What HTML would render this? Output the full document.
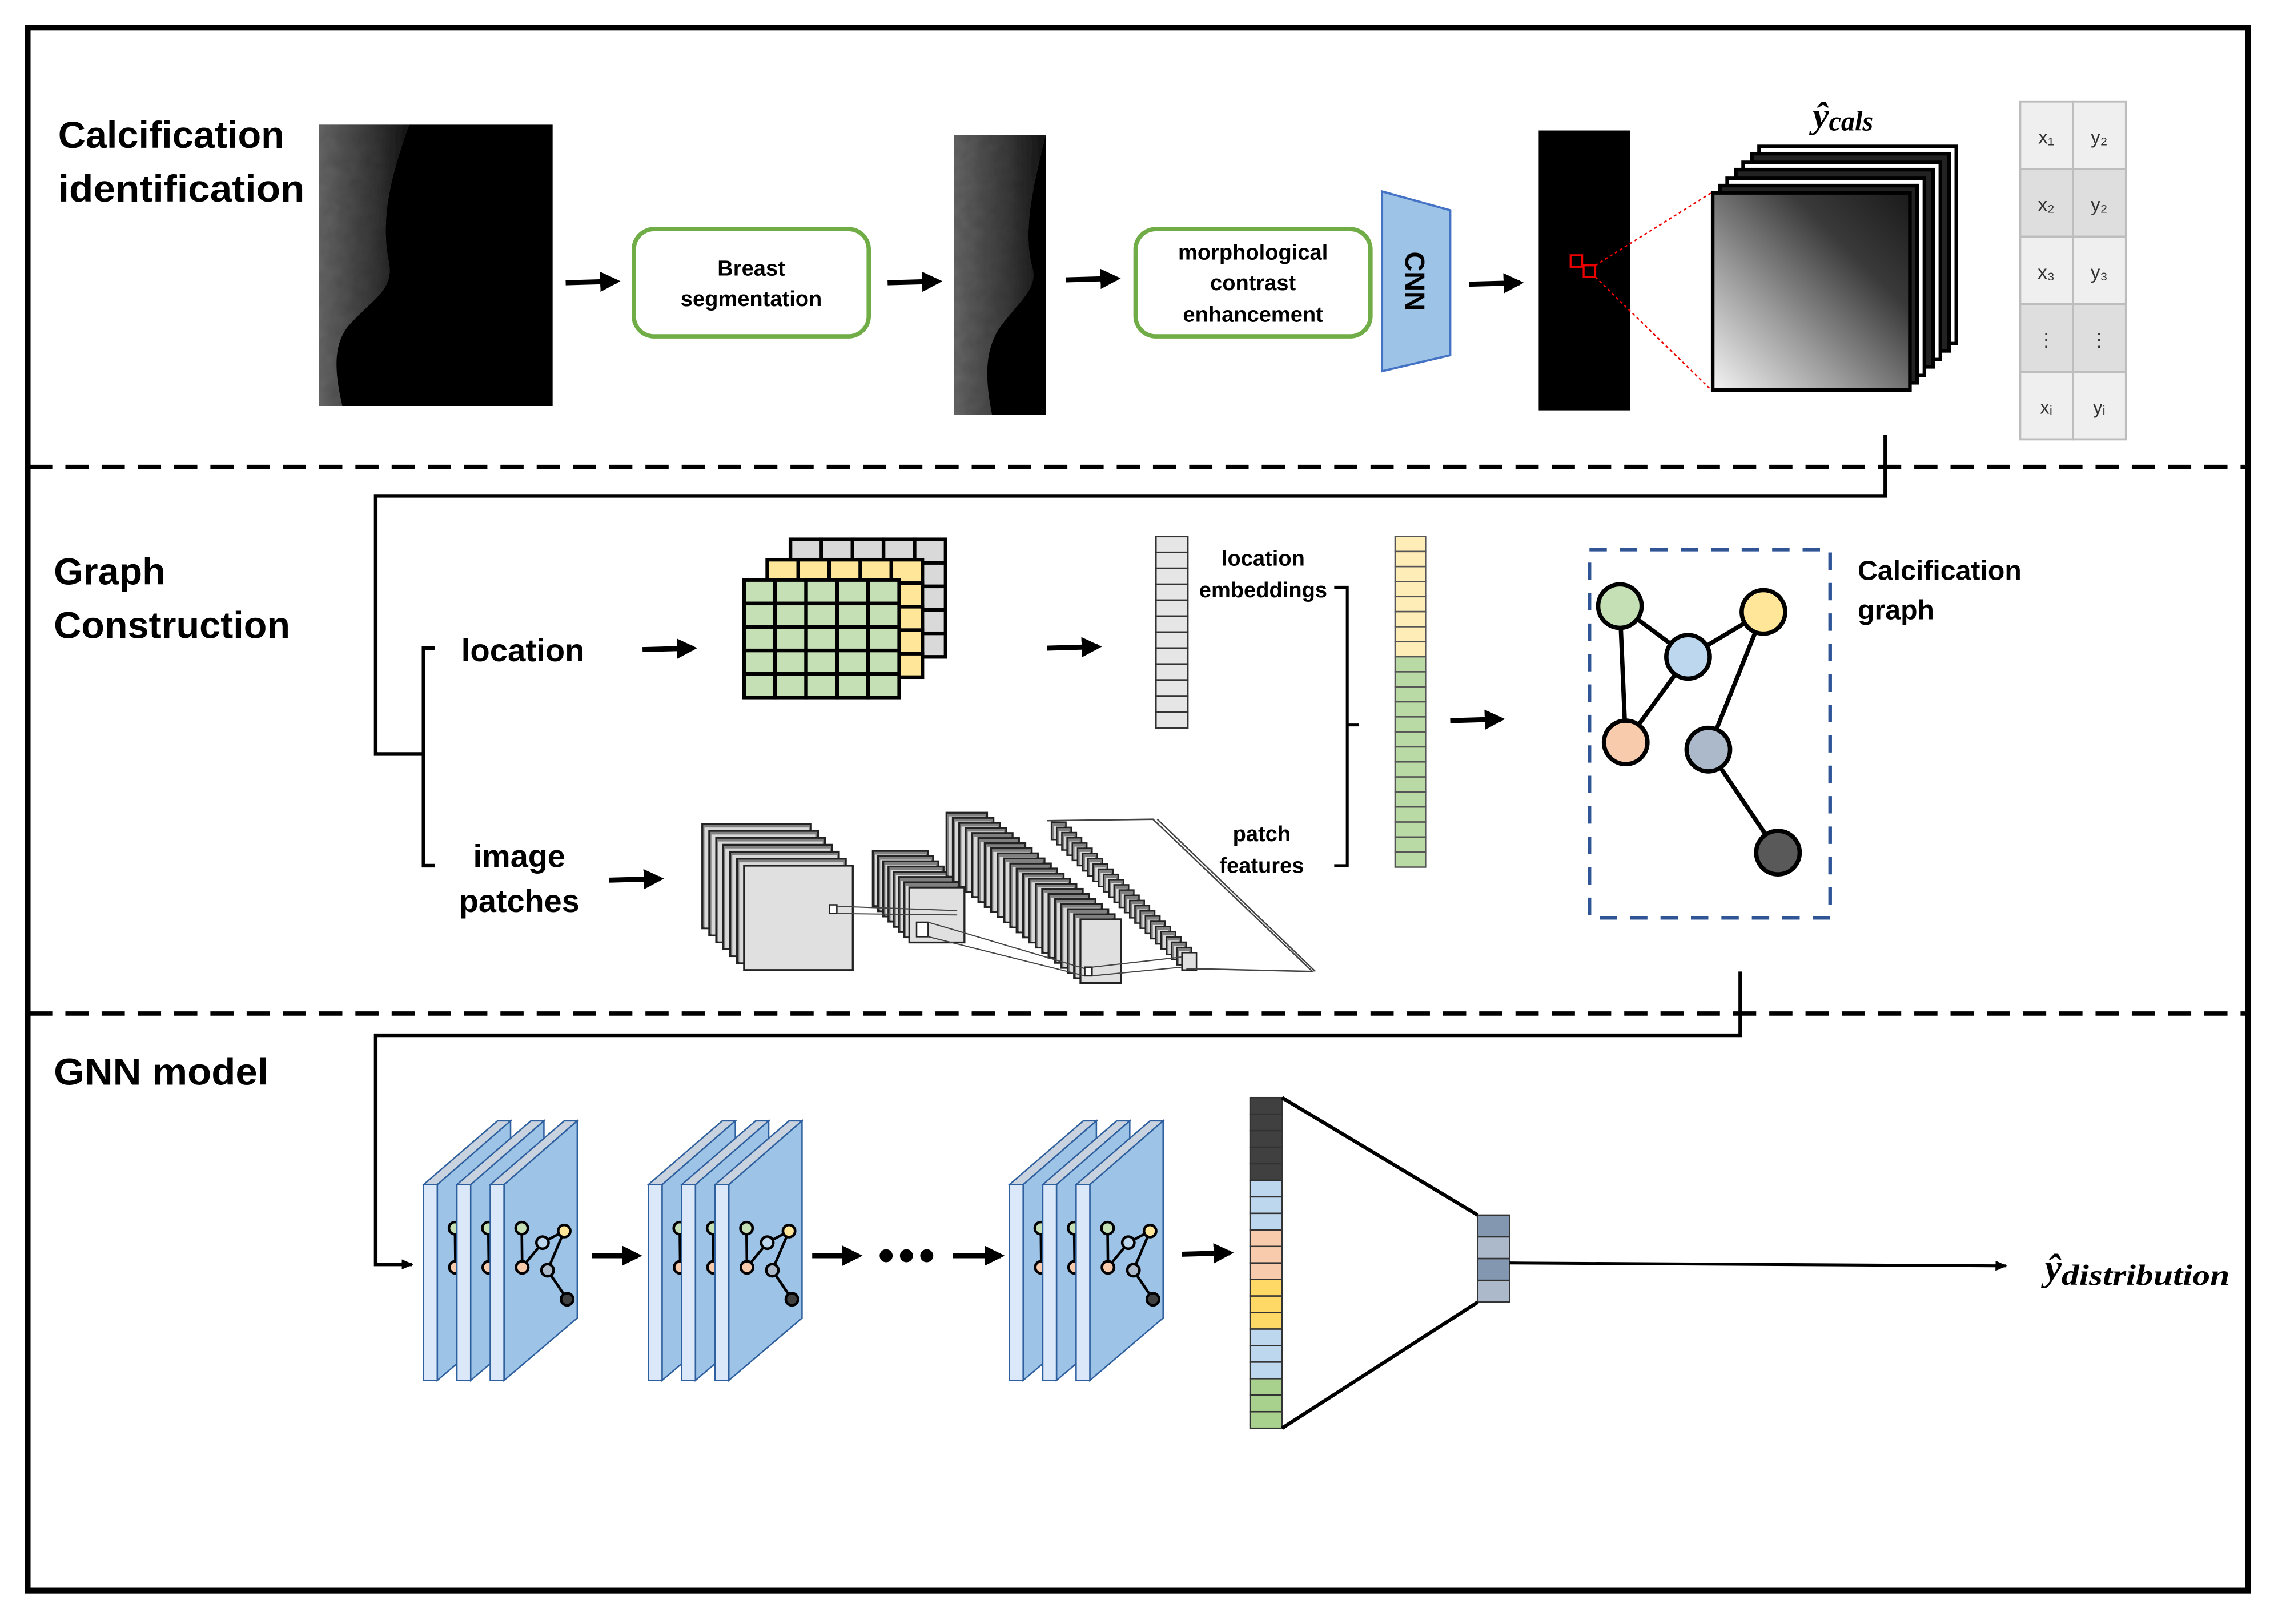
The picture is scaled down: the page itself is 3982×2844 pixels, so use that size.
<!DOCTYPE html>
<html><head><meta charset="utf-8"><style>
html,body{margin:0;padding:0;background:#fff;}
svg{display:block;}
text{font-family:"Liberation Sans",sans-serif;}
</style></head><body>
<svg id="s" width="3982" height="2844" viewBox="0 0 1568 1120" xmlns="http://www.w3.org/2000/svg">
<defs>
<marker id="ah" markerWidth="4" markerHeight="4" refX="3.2" refY="2" orient="auto" markerUnits="strokeWidth"><path d="M0,0 L4,2 L0,4 z" fill="#000"/></marker>
<marker id="ah2" markerWidth="8" markerHeight="8" refX="7" refY="4" orient="auto" markerUnits="userSpaceOnUse"><path d="M0,0.5 L8,4 L0,7.5 z" fill="#000"/></marker>
<linearGradient id="mam" x1="0" y1="0" x2="1" y2="0"><stop offset="0" stop-color="#6a6a6a"/><stop offset="0.6" stop-color="#3a3a3a"/><stop offset="1" stop-color="#151515"/></linearGradient>
<linearGradient id="patch" x1="0" y1="1" x2="1" y2="0"><stop offset="0" stop-color="#f4f4f4"/><stop offset="0.35" stop-color="#9a9a9a"/><stop offset="0.7" stop-color="#3a3a3a"/><stop offset="1" stop-color="#1a1a1a"/></linearGradient>
<filter id="noise" x="0" y="0" width="1" height="1" filterUnits="objectBoundingBox"><feTurbulence type="fractalNoise" baseFrequency="0.12" numOctaves="2" result="t"/><feColorMatrix in="t" type="saturate" values="0" result="g"/><feComponentTransfer in="g" result="g2"><feFuncA type="linear" slope="0" intercept="0.35"/></feComponentTransfer><feBlend in="SourceGraphic" in2="g2" mode="multiply" result="b"/><feComposite in="b" in2="SourceGraphic" operator="in"/></filter>
</defs>
<rect x="0" y="0" width="1568" height="1120" fill="#fff"/>
<rect x="19" y="19" width="1531" height="1078" fill="none" stroke="#000" stroke-width="4"/>
<line x1="20" y1="322" x2="1548" y2="322" stroke="#000" stroke-width="3" stroke-dasharray="16 9"/>
<line x1="20" y1="699" x2="1548" y2="699" stroke="#000" stroke-width="3" stroke-dasharray="16 9"/>

<text x="40" y="102" font-size="26" font-weight="bold" textLength="156" lengthAdjust="spacingAndGlyphs">Calcification</text>
<text x="40" y="139" font-size="26" font-weight="bold" textLength="170" lengthAdjust="spacingAndGlyphs">identification</text>

<rect x="220" y="86" width="161" height="194" fill="#000"/>
<path d="M220,86 L282,86 C270,120 262,150 268,180 C272,200 258,205 240,225 C228,240 232,262 236,280 L220,280 z" fill="url(#mam)" filter="url(#noise)"/>
<line x1="390" y1="195" x2="425" y2="194" stroke="#000" stroke-width="3.5" marker-end="url(#ah)"/>
<rect x="437" y="158" width="162" height="74" rx="14" fill="#fff" stroke="#70ad47" stroke-width="3"/>
<text x="518" y="190" font-size="15" font-weight="bold" text-anchor="middle">Breast</text>
<text x="518" y="211" font-size="15" font-weight="bold" text-anchor="middle">segmentation</text>
<line x1="612" y1="195" x2="647" y2="194" stroke="#000" stroke-width="3.5" marker-end="url(#ah)"/>
<rect x="658" y="93" width="63" height="193" fill="#000"/>
<path d="M658,93 L721,93 C712,130 705,160 712,185 C716,200 700,210 688,228 C678,245 680,265 684,286 L658,286 z" fill="url(#mam)" filter="url(#noise)"/>
<line x1="735" y1="193" x2="770" y2="192" stroke="#000" stroke-width="3.5" marker-end="url(#ah)"/>
<rect x="783" y="158" width="162" height="74" rx="14" fill="#fff" stroke="#70ad47" stroke-width="3"/>
<text x="864" y="179" font-size="15" font-weight="bold" text-anchor="middle">morphological</text>
<text x="864" y="200" font-size="15" font-weight="bold" text-anchor="middle">contrast</text>
<text x="864" y="222" font-size="15" font-weight="bold" text-anchor="middle">enhancement</text>
<polygon points="953,132 1000,145 1000,245 953,256" fill="#9dc3e6" stroke="#4472c4" stroke-width="1.5"/>
<text x="0" y="0" font-size="19" font-weight="bold" text-anchor="middle" transform="translate(969,194) rotate(90)">CNN</text>
<line x1="1013" y1="196" x2="1048" y2="195" stroke="#000" stroke-width="3.5" marker-end="url(#ah)"/>
<rect x="1061" y="90" width="63" height="193" fill="#000"/>
<rect x="1083" y="176" width="8" height="8" fill="none" stroke="#e00" stroke-width="1.3"/>
<rect x="1092" y="183" width="8" height="8" fill="none" stroke="#e00" stroke-width="1.3"/>
<line x1="1100" y1="183" x2="1180" y2="133" stroke="#e00" stroke-width="1" stroke-dasharray="2 2"/>
<line x1="1100" y1="191" x2="1180" y2="269" stroke="#e00" stroke-width="1" stroke-dasharray="2 2"/>
<g stroke="#000" stroke-width="2.5">
<rect x="1213" y="101" width="136" height="136" fill="#fff"/>
<rect x="1208" y="106" width="136" height="136" fill="#222"/>
<rect x="1202" y="112" width="136" height="136" fill="#fff"/>
<rect x="1197" y="117" width="136" height="136" fill="#222"/>
<rect x="1191" y="123" width="136" height="136" fill="#fff"/>
<rect x="1186" y="128" width="136" height="136" fill="#222"/>
<rect x="1181" y="133" width="136" height="136" fill="url(#patch)"/>
</g>
<text x="1250" y="88" font-size="25" font-style="italic" font-weight="bold" style="font-family:'Liberation Serif',serif">ŷ<tspan font-size="19" dy="2">cals</tspan></text>
<g id="tbl"></g>

<polyline points="1300,300 1300,342 259,342 259,520 292,520" fill="none" stroke="#000" stroke-width="2.5"/>
<polyline points="300,447 292,447 292,597 300,597" fill="none" stroke="#000" stroke-width="2.5"/>

<text x="37" y="403" font-size="26" font-weight="bold" textLength="77" lengthAdjust="spacingAndGlyphs">Graph</text>
<text x="37" y="440" font-size="26" font-weight="bold" textLength="163" lengthAdjust="spacingAndGlyphs">Construction</text>
<text x="318" y="456" font-size="22" font-weight="bold" textLength="85" lengthAdjust="spacingAndGlyphs">location</text>
<line x1="443" y1="448" x2="478" y2="447" stroke="#000" stroke-width="3.5" marker-end="url(#ah)"/>
<g id="grids"></g>
<line x1="722" y1="447" x2="757" y2="446" stroke="#000" stroke-width="3.5" marker-end="url(#ah)"/>
<g id="locv"></g>
<text x="871" y="390" font-size="15" font-weight="bold" text-anchor="middle">location</text>
<text x="871" y="412" font-size="15" font-weight="bold" text-anchor="middle">embeddings</text>
<text x="870" y="580" font-size="15" font-weight="bold" text-anchor="middle">patch</text>
<text x="870" y="602" font-size="15" font-weight="bold" text-anchor="middle">features</text>
<polyline points="920,405 929,405 929,597 920,597" fill="none" stroke="#000" stroke-width="2"/>
<line x1="929" y1="500" x2="937" y2="500" stroke="#000" stroke-width="2"/>
<g id="catv"></g>
<line x1="1000" y1="497" x2="1035" y2="496" stroke="#000" stroke-width="3.5" marker-end="url(#ah)"/>
<rect x="1096" y="379" width="166" height="254" fill="none" stroke="#2f5597" stroke-width="2.5" stroke-dasharray="12 9"/>
<g stroke="#000" stroke-width="3">
<line x1="1117" y1="418" x2="1164" y2="453"/><line x1="1164" y1="453" x2="1216" y2="422"/>
<line x1="1117" y1="418" x2="1121" y2="512"/><line x1="1164" y1="453" x2="1121" y2="512"/>
<line x1="1216" y1="422" x2="1178" y2="517"/><line x1="1178" y1="517" x2="1226" y2="588"/>
<circle cx="1117" cy="418" r="15" fill="#c5e0b4"/>
<circle cx="1164" cy="453" r="15" fill="#bdd7ee"/>
<circle cx="1216" cy="422" r="15" fill="#ffe699"/>
<circle cx="1121" cy="512" r="15" fill="#f8cbad"/>
<circle cx="1178" cy="517" r="15" fill="#acb9ca"/>
<circle cx="1226" cy="588" r="15" fill="#595959"/>
</g>
<text x="1281" y="400" font-size="19" font-weight="bold">Calcification</text>
<text x="1281" y="427" font-size="19" font-weight="bold">graph</text>
<text x="358" y="598" font-size="22" font-weight="bold" text-anchor="middle">image</text>
<text x="358" y="629" font-size="22" font-weight="bold" text-anchor="middle">patches</text>
<line x1="420" y1="607" x2="455" y2="606" stroke="#000" stroke-width="3.5" marker-end="url(#ah)"/>
<g id="cnnf"></g>

<polyline points="1200,670 1200,714 259,714 259,872 284,872" fill="none" stroke="#000" stroke-width="2.5" marker-end="url(#ah2)"/>

<text x="37" y="748" font-size="26" font-weight="bold" textLength="148" lengthAdjust="spacingAndGlyphs">GNN model</text>
<g id="gnn"></g>
<line x1="408" y1="866" x2="440" y2="866" stroke="#000" stroke-width="3.5" marker-end="url(#ah)"/>
<line x1="560" y1="866" x2="592" y2="866" stroke="#000" stroke-width="3.5" marker-end="url(#ah)"/>
<circle cx="611" cy="866" r="4.5"/><circle cx="625" cy="866" r="4.5"/><circle cx="639" cy="866" r="4.5"/>
<line x1="657" y1="866" x2="690" y2="866" stroke="#000" stroke-width="3.5" marker-end="url(#ah)"/>
<line x1="815" y1="865" x2="848" y2="864" stroke="#000" stroke-width="3.5" marker-end="url(#ah)"/>
<g id="fc"></g>
<line x1="884" y1="757" x2="1019" y2="838" stroke="#000" stroke-width="2.5"/>
<line x1="884" y1="985" x2="1019" y2="898" stroke="#000" stroke-width="2.5"/>
<line x1="1041" y1="871" x2="1383" y2="873" stroke="#000" stroke-width="2" marker-end="url(#ah2)"/>
<text x="1410" y="883" font-size="26" font-style="italic" font-weight="bold" style="font-family:'Liberation Serif',serif">ŷ<tspan font-size="20" dy="3" textLength="116" lengthAdjust="spacingAndGlyphs">distribution</tspan></text>
</svg>
<script>
var NS="http://www.w3.org/2000/svg";
function el(p,t,a){var e=document.createElementNS(NS,t);for(var k in a)e.setAttribute(k,a[k]);p.appendChild(e);return e;}
function $(i){return document.getElementById(i);}
var tb=$("tbl");var labs=[["x₁","y₂"],["x₂","y₂"],["x₃","y₃"],["⋮","⋮"],["xᵢ","yᵢ"]];
for(var r=0;r<5;r++){for(var c=0;c<2;c++){var x=1393+c*36.5,y=70+r*46.6;
el(tb,"rect",{x:x,y:y,width:36.5,height:46.6,fill:(r%2?"#dedede":"#efefef"),stroke:"#bdbdbd","stroke-width":1.5});
var t=el(tb,"text",{x:x+18,y:y+29,"font-size":13,"text-anchor":"middle",fill:"#333"});t.textContent=labs[r][c];}}
var g=$("grids");
function grid(x0,y0,fill){for(var r=0;r<5;r++)for(var c=0;c<5;c++)el(g,"rect",{x:x0+c*21.4,y:y0+r*16.2,width:21.4,height:16.2,fill:fill,stroke:"#000","stroke-width":2.5});}
grid(545,372,"#d9d9d9");grid(529,386,"#ffe699");grid(513,400,"#c5e0b4");
var lv=$("locv");for(var i=0;i<12;i++)el(lv,"rect",{x:797,y:370+i*11,width:22,height:11,fill:"#e7e6e6",stroke:"#333","stroke-width":1.2});
var cv=$("catv");var n=22,h=(598-370)/n;for(var i=0;i<n;i++)el(cv,"rect",{x:962,y:370+i*h,width:21,height:h,fill:(i<8?"#ffe699":"#a9d18e"),stroke:"#555","stroke-width":1,"fill-opacity":(i<8?0.7:0.8)});
var cf=$("cnnf");
function stack(x0,y0,w,hh,n,dx,dy,sw){for(var i=n-1;i>=0;i--){el(cf,"rect",{x:x0-i*dx,y:y0-i*dy,width:w,height:hh,fill:(i==0?"#e0e0e0":"#808080"),stroke:"#222","stroke-width":sw||1.3});if(i>0)el(cf,"rect",{x:x0-i*dx+1.5,y:y0-i*dy+2.5,width:w-3,height:hh-3,fill:"#d9d9d9",stroke:"none"});}}
stack(513,597,75,72,7,4.8,4.8);
stack(627,612,38,38,8,3.6,3.6);
stack(745,634,28,44,22,4.4,3.5);
stack(815,657,10,12,26,3.6,3.6,1);
el(cf,"polyline",{points:"722,566 795,565 905,670 818,668",fill:"none",stroke:"#444","stroke-width":1});
el(cf,"line",{x1:798,y1:565,x2:907,y2:670,stroke:"#444","stroke-width":1});
el(cf,"rect",{x:572,y:624,width:5,height:6,fill:"#fff",stroke:"#222","stroke-width":1});
el(cf,"line",{x1:577,y1:625,x2:660,y2:628,stroke:"#444","stroke-width":.8});
el(cf,"line",{x1:577,y1:630,x2:660,y2:631,stroke:"#444","stroke-width":.8});
el(cf,"rect",{x:632,y:636,width:8,height:10,fill:"#fff",stroke:"#222","stroke-width":1});
el(cf,"line",{x1:640,y1:636,x2:748,y2:668,stroke:"#444","stroke-width":.8});
el(cf,"line",{x1:640,y1:646,x2:748,y2:673,stroke:"#444","stroke-width":.8});
el(cf,"rect",{x:748,y:667,width:5,height:6,fill:"#fff",stroke:"#222","stroke-width":1});
el(cf,"line",{x1:753,y1:667,x2:815,y2:660,stroke:"#444","stroke-width":.8});
el(cf,"line",{x1:753,y1:673,x2:815,y2:667,stroke:"#444","stroke-width":.8});
var gn=$("gnn");
function card(x0){
el(gn,"polygon",{points:(x0)+",817 "+(x0+9.5)+",817 "+(x0+60)+",773 "+(x0+51)+",773",fill:"#c9d3e0",stroke:"#2e5f9e","stroke-width":1});
el(gn,"polygon",{points:(x0+9.5)+",817 "+(x0+60)+",773 "+(x0+60)+",909 "+(x0+9.5)+",952",fill:"#9dc3e6",stroke:"#2e5f9e","stroke-width":1});
el(gn,"rect",{x:x0,y:817,width:9.5,height:135,fill:"#dae8fa",stroke:"#2e5f9e","stroke-width":1});
var nd=[[21.7,847,"#c5e0b4"],[36,857,"#bdd7ee"],[51,849,"#ffe699"],[22,874,"#f8cbad"],[39.5,876,"#acb9ca"],[53,896,"#404040"]];
var ed=[[0,3],[3,1],[1,2],[2,4],[4,5]];
ed.forEach(function(e){el(gn,"line",{x1:x0+nd[e[0]][0],y1:nd[e[0]][1],x2:x0+nd[e[1]][0],y2:nd[e[1]][1],stroke:"#000","stroke-width":1.8});});
nd.forEach(function(p){el(gn,"circle",{cx:x0+p[0],cy:p[1],r:4.2,fill:p[2],stroke:"#000","stroke-width":1.8});});
}
[292,315,338,447,470,493,696,719,742].forEach(card);
var fc=$("fc");var cols=["#404040","#404040","#404040","#404040","#404040","#bdd7ee","#bdd7ee","#bdd7ee","#f8cbad","#f8cbad","#f8cbad","#ffd966","#ffd966","#ffd966","#bdd7ee","#bdd7ee","#bdd7ee","#a9d18e","#a9d18e","#a9d18e"];
var hh=(985-757)/cols.length;cols.forEach(function(c,i){el(fc,"rect",{x:862,y:757+i*hh,width:22,height:hh,fill:c,stroke:"#333","stroke-width":1});});
for(var i=0;i<4;i++)el(fc,"rect",{x:1019,y:838+i*15,width:22,height:15,fill:(i%2?"#acb9ca":"#8497b0"),stroke:"#333","stroke-width":1});
</script>
</body></html>
